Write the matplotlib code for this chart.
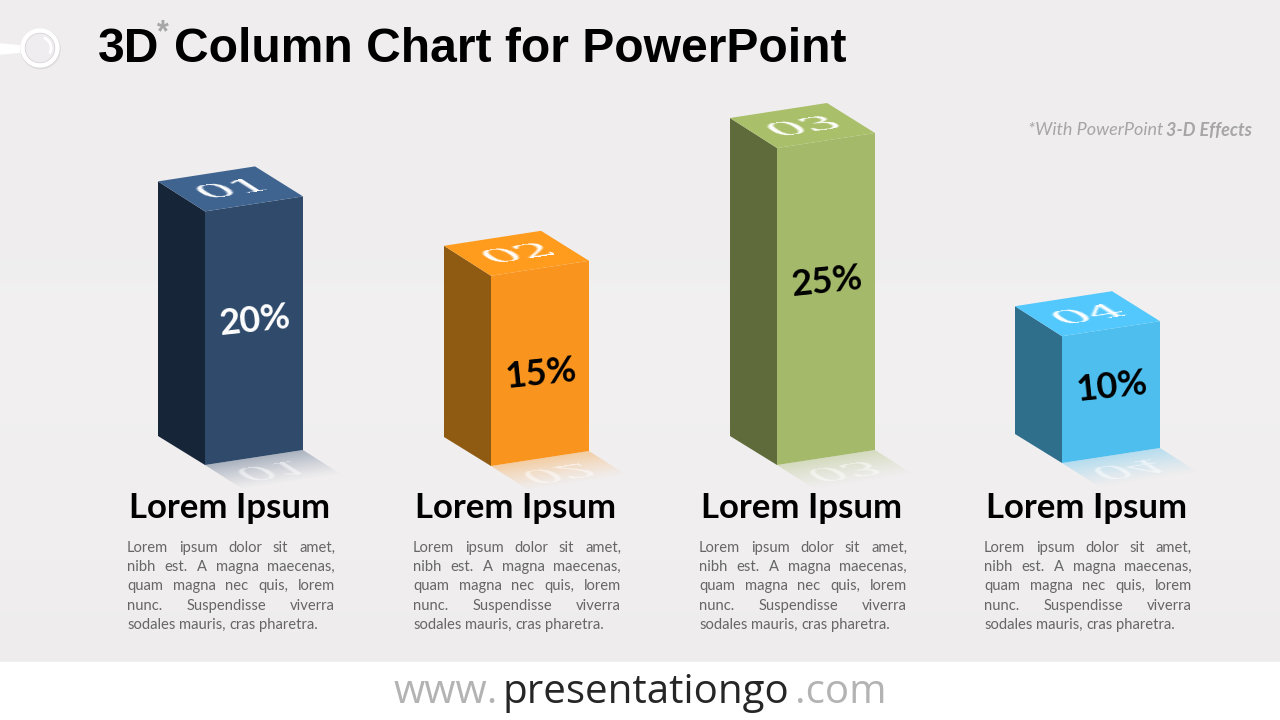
import matplotlib
matplotlib.use("Agg")
import matplotlib.pyplot as plt
from matplotlib.patches import Polygon, Circle, Rectangle, Arc
import numpy as np

# chart data
values = [20, 15, 25, 10]
numbers = ["01", "02", "03", "04"]
percent_labels = ["20%", "15%", "25%", "10%"]
headings = ["Lorem Ipsum", "Lorem Ipsum", "Lorem Ipsum", "Lorem Ipsum"]
body_lines = ["Lorem ipsum dolor sit amet,",
              "nibh est. A magna maecenas,",
              "quam magna nec quis, lorem",
              "nunc. Suspendisse viverra",
              "sodales mauris, cras pharetra."]

front_colors = ["#2F4A6B", "#F9951F", "#A4B96A", "#4DBEEE"]
top_colors = ["#3F6490", "#FF9C1E", "#A9BF69", "#53C8FD"]
side_colors = ["#172539", "#8F5A11", "#5F6B3B", "#2F6F8C"]
percent_colors = ["white", "black", "black", "black"]
percent_dy = [-10, 10, -17, -5]
bar_x = [205, 491, 777, 1062]
base_y = [465, 466, 465, 463]
px_per_percent = 12.68

fig = plt.figure(figsize=(12.8, 7.2), dpi=100)
ax = fig.add_axes([0, 0, 1, 1])


def warp(m, flip=False):
    # agg filter: shears the pixels of a text, so it stays a real text object
    m = np.array(m, float)
    inv = np.linalg.inv(m)

    def f(img, dpi):
        if flip:
            img = img[::-1]
        h, w = img.shape[:2]
        cs = np.array([[-w, -h], [w, -h], [w, h], [-w, h]]) / 2
        out = cs @ m.T
        W = int(np.ceil(np.ptp(out[:, 0]))) + 2
        H = int(np.ceil(np.ptp(out[:, 1]))) + 2
        yy, xx = np.mgrid[0:H, 0:W]
        sx = inv[0, 0] * (xx - W / 2) + inv[0, 1] * (yy - H / 2) + w / 2
        sy = inv[1, 0] * (xx - W / 2) + inv[1, 1] * (yy - H / 2) + h / 2
        x0 = np.floor(sx).astype(int)
        y0 = np.floor(sy).astype(int)
        ok = (x0 >= 0) & (y0 >= 0) & (x0 < w - 1) & (y0 < h - 1)
        res = np.zeros((H, W, 4))
        fx = (sx - x0)[ok][:, None]
        fy = (sy - y0)[ok][:, None]
        a, b = y0[ok], x0[ok]
        res[ok] = (img[a, b] * (1 - fx) * (1 - fy) + img[a, b + 1] * fx * (1 - fy)
                   + img[a + 1, b] * (1 - fx) * fy + img[a + 1, b + 1] * fx * fy)
        return res, int((w - W) / 2), int((h - H) / 2)
    return f


# background
stops_y = [0, 280, 285, 560, 662]
stops_c = [239, 240, 242, 240, 238]
bg = np.interp(np.arange(720), stops_y, stops_c)[:, None] / 255
ax.imshow(np.dstack([bg, bg * 0.992, bg * 0.996]), extent=[0, 1280, 720, 0], aspect="auto", zorder=0)
ax.add_patch(Rectangle((0, 662), 1280, 58, color="white", zorder=1))

# icon top left
ax.add_patch(Polygon([(0, 44), (23, 46), (23, 52), (0, 54)], color="white", zorder=2))
ax.add_patch(Circle((40.5, 49), 19.5, color="#DAD8DA", zorder=2))
ax.add_patch(Circle((40, 48), 19, color="white", zorder=2))
ax.add_patch(Circle((40, 48), 14.5, color="#D2D0D2", zorder=3))
ax.add_patch(Circle((40, 48), 13.8, color="#EFEDEF", zorder=3))
ax.add_patch(Arc((40, 48), 22, 22, theta1=-70, theta2=30, color="white", lw=2, zorder=3))

for i in range(4):
    h = values[i] * px_per_percent
    x1 = bar_x[i]
    y1 = base_y[i]
    xl, xr, xb = x1 - 47, x1 + 98, x1 + 50
    # side, front and top face
    ax.add_patch(Polygon([(xl, y1 - 29), (x1, y1), (x1, y1 - h), (xl, y1 - h - 30)],
                         color=side_colors[i], lw=0, zorder=3))
    ax.add_patch(Polygon([(x1, y1), (xr, y1 - 15), (xr, y1 - h - 15), (x1, y1 - h)],
                         color=front_colors[i], lw=0, zorder=3))
    ax.add_patch(Polygon([(xl, y1 - h - 30), (xb, y1 - h - 45), (xr, y1 - h - 15), (x1, y1 - h)],
                         color=top_colors[i], lw=0, zorder=3))

    # reflection on the floor, fades out
    poly = Polygon([(x1, y1), (xr, y1 - 15), (xr + 47, y1 + 15), (x1 + 47, y1 + 30)],
                   transform=ax.transData, fc="none", lw=0)
    ax.add_patch(poly)
    xs, ys = np.meshgrid(np.arange(x1, xr + 48), np.arange(y1 - 15, y1 + 31))
    t = (ys - (y1 - 0.155 * (xs - x1))) / 30
    rgba = np.zeros(t.shape + (4,))
    rgba[..., :3] = matplotlib.colors.to_rgb(front_colors[i])
    rgba[..., 3] = 0.36 * np.clip(1 - t, 0, 1) ** 1.2
    im = ax.imshow(rgba, extent=[x1, xr + 48, y1 + 31, y1 - 15], aspect="auto", zorder=2)
    im.set_clip_path(poly)

    # number on top and its mirror image
    shear = [[2.0, 0.94], [-0.31, 0.6]]
    t1 = ax.text(x1 + 26, y1 - h - 20, numbers[i], family="DejaVu Serif", fontsize=20,
                 color="white", ha="center", va="center", zorder=5)
    t1.set_agg_filter(warp(shear))
    t2 = ax.text(x1 + 68, y1 + 10, numbers[i], family="DejaVu Serif", fontsize=20,
                 color="white", alpha=0.55, ha="center", va="center", zorder=5)
    t2.set_agg_filter(warp(shear, flip=True))

    # percent on the front face
    ax.text(x1 + 50, y1 - h / 2 - 7.5 + percent_dy[i], percent_labels[i], family="Lato",
            weight="bold", fontsize=26, color=percent_colors[i], rotation=6,
            rotation_mode="anchor", ha="center", va="center", zorder=5)

    # heading under the bar
    ax.text(x1 + 25, 508, headings[i], family="Lato", weight="bold", fontsize=25,
            color="black", ha="center", va="center", zorder=5)

ax.set_xlim(0, 1280)
ax.set_ylim(720, 0)
ax.axis("off")

# justified body text, one word at a time
renderer = fig.canvas.get_renderer()
body_x = [127, 413, 699, 984]
line_y = [548, 567, 586, 606, 625]
for x0 in body_x:
    for n, line in enumerate(body_lines):
        words = line.split(" ")
        ts = [ax.text(0, line_y[n], w, family="Lato", fontsize=10.6, color="#666666",
                      ha="left", va="center", zorder=5) for w in words]
        ws = [t.get_window_extent(renderer).width for t in ts]
        gap = (208 - sum(ws)) / (len(words) - 1)
        if n == len(body_lines) - 1:
            gap = 3.6
        x = x0
        for t, w in zip(ts, ws):
            t.set_x(x)
            x += w + gap

# title
title_font = dict(family="Liberation Sans", weight="bold", color="black", va="center", zorder=5)
ax.text(98, 49, "3D", fontsize=34.6, ha="left", **title_font)
ax.text(157, 33, "*", family="Liberation Sans", weight="bold", fontsize=22, color="#A6A6A6",
        ha="left", va="center", zorder=5)
ax.text(174, 49, "Column Chart for PowerPoint", fontsize=34.6, ha="left", **title_font)

# side note
note_b = ax.text(1252, 130, "3-D Effects", family="Lato", style="italic", weight="bold",
                 fontsize=13, color="#A6A6A6", ha="right", va="center", zorder=5)
note_x = note_b.get_window_extent(renderer).x0
ax.text(note_x - 3, 130, "*With PowerPoint", family="Lato", style="italic", fontsize=13,
        color="#A6A6A6", ha="right", va="center", zorder=5)

# footer
ax.text(394, 693, "www.", family="Open Sans", fontsize=29, color="#B3B3B3", ha="left", va="center", zorder=5)
ax.text(503, 693, "presentationgo", family="Open Sans", fontsize=29, color="#262626", ha="left", va="center", zorder=5)
ax.text(886, 693, ".com", family="Open Sans", fontsize=29, color="#B3B3B3", ha="right", va="center", zorder=5)

fig.savefig("out.png", dpi=100)
